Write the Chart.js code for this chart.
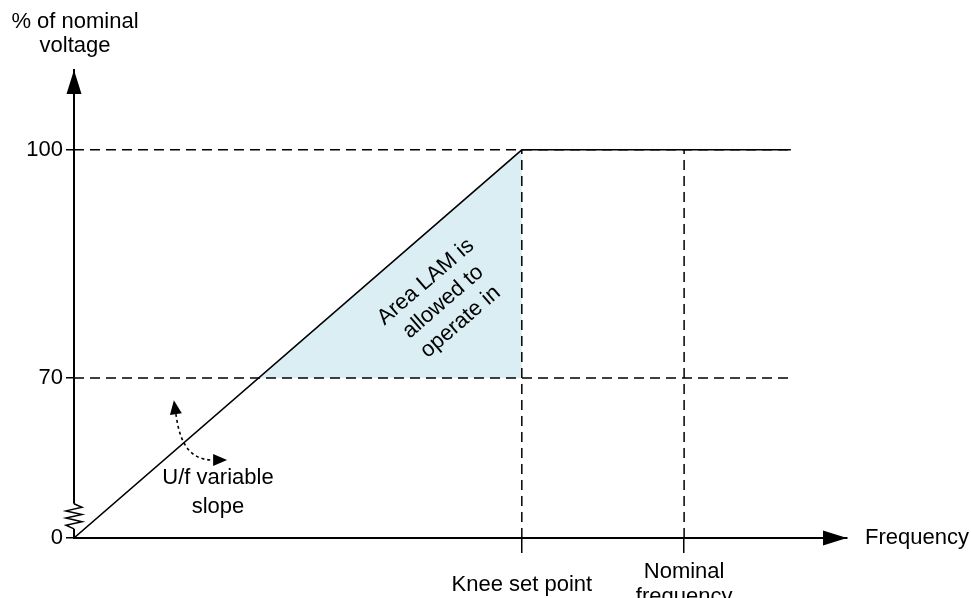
<!DOCTYPE html>
<html>
<head>
<meta charset="utf-8">
<title>U/f knee curve</title>
<script src="https://cdn.jsdelivr.net/npm/chart.js@4.4.1/dist/chart.umd.min.js"></script>
<style>
  html, body { margin: 0; padding: 0; background: #fff; }
  #wrap { width: 971px; height: 598px; }
</style>
</head>
<body>
<div id="wrap"><canvas id="ufChart" width="971" height="598"></canvas></div>
<script>
// frequency in % of nominal, voltage in % of nominal
const kneeFreq = 73.4;
const nominalFreq = 100;
const curveEndFreq = 117.5;
const freqAxisMax = 126.7;
const crossFreq70 = 30.2;

const curveFreq = [0, kneeFreq, curveEndFreq];
const curveVolt = [0, 100, 100];
const lamFreq = [crossFreq70, kneeFreq];
const lamVolt = [70, 100];
const refVoltLevels = [100, 70];
const refFreqMarks = [kneeFreq, nominalFreq];

const voltTicks = [0, 70, 100];
const voltTickLabels = ['0', '70', '100'];
const freqTickValues = [kneeFreq, nominalFreq];
const freqTickLabels = ['Knee set point', ['Nominal', 'frequency']];

// y axis is broken below 70: 0..70 squeezed into a short stretch
const VOLT_BREAK = 70;
const VOLT_FLOOR = 48.95;
const VOLT_TOP = 110.5;
const voltToAxis = (v) => v >= VOLT_BREAK ? v : VOLT_FLOOR + v * (VOLT_BREAK - VOLT_FLOOR) / VOLT_BREAK;
const axisToVolt = (a) => a >= VOLT_BREAK ? a : (a - VOLT_FLOOR) * VOLT_BREAK / (VOLT_BREAK - VOLT_FLOOR);

class BrokenLinearScale extends Chart.LinearScale {
    getPixelForValue(value) {
        return super.getPixelForValue(value == null ? value : voltToAxis(value));
    }
    getValueForPixel(pixel) {
        return axisToVolt(super.getValueForPixel(pixel));
    }
}
BrokenLinearScale.id = 'brokenLinear';
BrokenLinearScale.defaults = Chart.LinearScale.defaults;
Chart.register(BrokenLinearScale);

const FONT = "'Liberation Sans', Arial, sans-serif";
Chart.defaults.font.family = FONT;
Chart.defaults.font.size = 22;
Chart.defaults.color = '#000';

const pts = (xs, ys) => xs.map((x, i) => ({ x, y: ys[i] }));

const datasets = [
    { label: 'U/f', data: pts(curveFreq, curveVolt), borderColor: '#000', borderWidth: 1.5, order: 1 },
    { label: 'LAM area', data: pts(lamFreq, lamVolt), borderWidth: 0, borderColor: 'rgba(0,0,0,0)',
      backgroundColor: '#daeef3', fill: { value: 70 }, order: 10 },
    ...refVoltLevels.map((v) => ({
        label: 'ref ' + v, data: [{ x: 0, y: v }, { x: curveEndFreq, y: v }],
        borderColor: '#000', borderWidth: 1.5, borderDash: [10, 6], order: 5,
    })),
    ...refFreqMarks.map((f) => ({
        label: 'mark ' + f, data: [{ x: f, y: 0 }, { x: f, y: 100 }],
        borderColor: '#000', borderWidth: 1.5, borderDash: [10, 6], order: 5,
    })),
];

function arrowHead(ctx, tipX, tipY, angle, len, half) {
    ctx.save();
    ctx.translate(tipX, tipY);
    ctx.rotate(angle);
    ctx.beginPath();
    ctx.moveTo(0, 0);
    ctx.lineTo(-len, -half);
    ctx.lineTo(-len, half);
    ctx.closePath();
    ctx.fill();
    ctx.restore();
}

// annotation anchors in chart units (frequency %, voltage %)
const slopeArrow = [[16.7, 54.2], [17.2, 45.0], [18.2, 34.1], [22.8, 34.1]];
const slopeTextAt = [23.6, 26.2];
const slopeText = ['U/f variable', 'slope'];
const areaTextAt = [60.5, 80];
const areaText = ['Area LAM is', 'allowed to', 'operate in'];

const diagramDecor = {
    id: 'diagramDecor',
    afterDraw(chart) {
        const { ctx, chartArea: a, scales: { x, y } } = chart;
        ctx.save();
        ctx.fillStyle = '#000';
        ctx.strokeStyle = '#000';

        // axis arrowheads
        arrowHead(ctx, a.left, a.top, -Math.PI / 2, 24, 7.5);
        arrowHead(ctx, a.right, a.bottom, 0, 24, 7.5);

        // axis break zigzag
        const zTop = y.getPixelForValue(15), zBot = y.getPixelForValue(4);
        ctx.fillStyle = '#fff';
        ctx.fillRect(a.left - 3, zTop, 6, zBot - zTop);
        ctx.fillStyle = '#000';
        ctx.lineWidth = 1.5;
        ctx.beginPath();
        ctx.moveTo(a.left, zTop);
        const n = 6, step = (zBot - zTop) / (n + 1);
        for (let i = 1; i <= n; i++) ctx.lineTo(a.left + (i % 2 ? 8 : -8), zTop + i * step);
        ctx.lineTo(a.left, zBot);
        ctx.stroke();

        // curved dotted arrow for the variable slope
        const p = slopeArrow.map(([fx, fy]) => [x.getPixelForValue(fx), y.getPixelForValue(fy)]);
        ctx.lineWidth = 1.6;
        ctx.setLineDash([3, 3]);
        ctx.beginPath();
        ctx.moveTo(p[0][0], p[0][1]);
        ctx.bezierCurveTo(p[1][0], p[1][1], p[2][0], p[2][1], p[3][0], p[3][1]);
        ctx.stroke();
        ctx.setLineDash([]);
        const a0 = Math.atan2(p[0][1] - p[1][1], p[0][0] - p[1][0]);
        arrowHead(ctx, p[0][0] + 14 * Math.cos(a0), p[0][1] + 14 * Math.sin(a0), a0, 14, 6);
        const a1 = Math.atan2(p[3][1] - p[2][1], p[3][0] - p[2][0]);
        arrowHead(ctx, p[3][0] + 14 * Math.cos(a1), p[3][1] + 14 * Math.sin(a1), a1, 14, 6);

        // texts
        ctx.font = '22px ' + FONT;
        ctx.textAlign = 'center';
        ctx.textBaseline = 'middle';
        ctx.fillText('% of nominal', a.left + 1, a.top - 48);
        ctx.fillText('voltage', a.left + 1, a.top - 24);

        const sx = x.getPixelForValue(slopeTextAt[0]), sy = y.getPixelForValue(slopeTextAt[1]);
        slopeText.forEach((t, i) => ctx.fillText(t, sx, sy + i * 29));

        ctx.textAlign = 'left';
        ctx.fillText('Frequency', a.right + 18, a.bottom);

        const ang = Math.atan2(y.getPixelForValue(lamVolt[1]) - y.getPixelForValue(lamVolt[0]),
                               x.getPixelForValue(lamFreq[1]) - x.getPixelForValue(lamFreq[0]));
        ctx.translate(x.getPixelForValue(areaTextAt[0]), y.getPixelForValue(areaTextAt[1]));
        ctx.rotate(ang);
        ctx.textAlign = 'center';
        areaText.forEach((t, i) => ctx.fillText(t, 0, (i - 1) * 26.5));
        ctx.restore();
    },
};

new Chart(document.getElementById('ufChart'), {
    type: 'line',
    data: { datasets },
    options: {
        responsive: false,
        animation: false,
        layout: { padding: { top: 70, right: 124, left: 0, bottom: 0 } },
        elements: { point: { radius: 0 }, line: { tension: 0 } },
        plugins: { legend: { display: false }, tooltip: { enabled: false } },
        scales: {
            x: {
                type: 'linear', min: 0, max: freqAxisMax,
                afterBuildTicks: (s) => { s.ticks = freqTickValues.map((v) => ({ value: v })); },
                afterFit: (s) => { s.height = 60; },
                ticks: {
                    callback: (v, i) => freqTickLabels[i],
                    padding: 19, crossAlign: 'center', maxRotation: 0, autoSkip: false,
                    font: { size: 22, lineHeight: 1.15 },
                },
                grid: { drawOnChartArea: false, drawTicks: true, tickLength: 15, color: '#000', lineWidth: 1.5 },
                border: { display: true, color: '#000', width: 2 },
            },
            y: {
                type: 'brokenLinear', min: VOLT_FLOOR, max: VOLT_TOP,
                afterBuildTicks: (s) => { s.ticks = voltTicks.map((v) => ({ value: v })); },
                afterFit: (s) => { s.width = 74; },
                ticks: { callback: (v, i) => voltTickLabels[i], padding: 3, autoSkip: false },
                grid: { drawOnChartArea: false, drawTicks: true, tickLength: 8, color: '#000', lineWidth: 1.5 },
                border: { display: true, color: '#000', width: 2 },
            },
        },
    },
    plugins: [diagramDecor],
});
</script>
</body>
</html>
